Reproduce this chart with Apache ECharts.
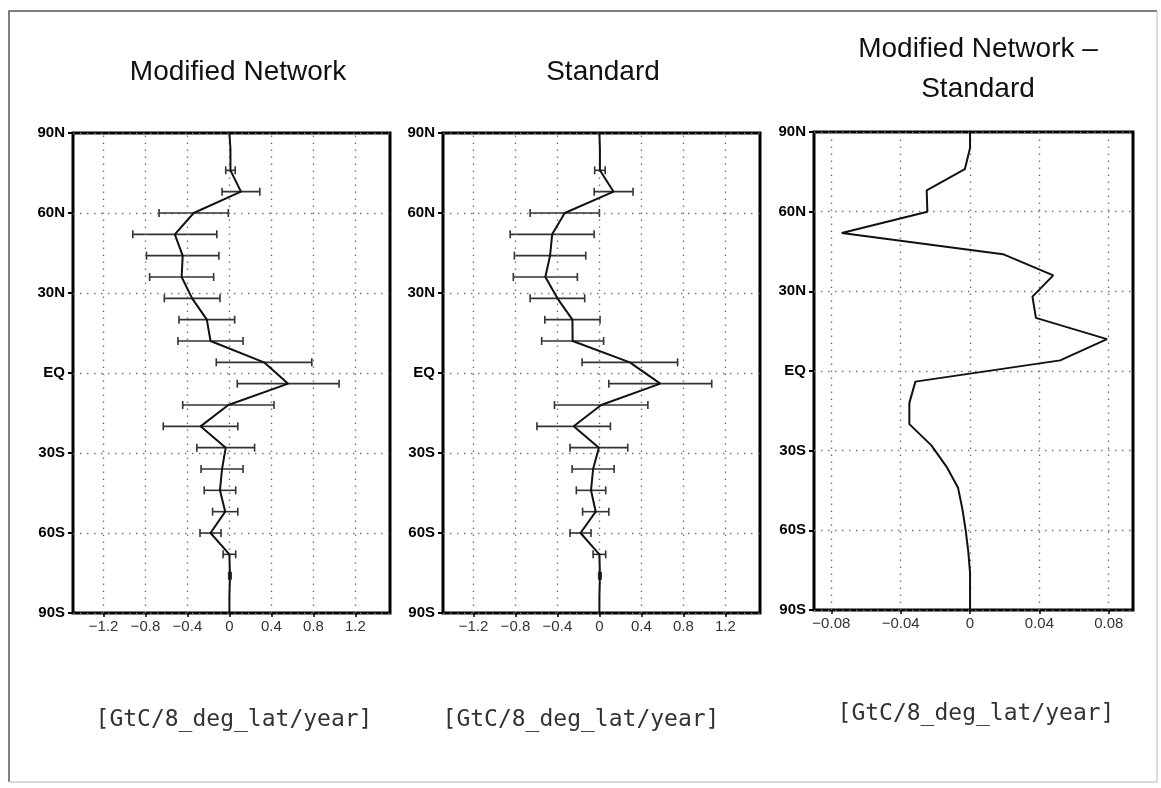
<!DOCTYPE html>
<html>
<head>
<meta charset="utf-8">
<script src="https://cdn.jsdelivr.net/npm/echarts@6/dist/echarts.min.js"></script>
<style>
html,body{margin:0;padding:0;background:#fff;}
#chart{width:1161px;height:788px;}
</style>
</head>
<body>
<div id="chart"></div>
<script>
// ---- data ----
const lats = [90, 84, 76, 68, 60, 52, 44, 36, 28, 20, 12, 4, -4, -12, -20, -28, -36, -44, -52, -60, -68, -76, -84, -90];

const modMean = [0, 0.01, 0.01, 0.11, -0.34, -0.52, -0.445, -0.455, -0.355, -0.215, -0.18, 0.33, 0.56, -0.01, -0.275, -0.035, -0.07, -0.09, -0.04, -0.18, 0.0, 0.005, 0, 0];
const modErr  = [null, null, 0.045, 0.18, 0.33, 0.40, 0.345, 0.305, 0.265, 0.265, 0.31, 0.455, 0.485, 0.435, 0.355, 0.275, 0.2, 0.15, 0.12, 0.10, 0.06, 0.012, null, null];

const stdMean = [0, 0.005, 0.005, 0.135, -0.33, -0.45, -0.47, -0.515, -0.40, -0.257, -0.255, 0.29, 0.58, 0.017, -0.245, -0.005, -0.06, -0.08, -0.035, -0.18, 0.0, 0.005, 0, 0];
const stdErr  = [null, null, 0.05, 0.185, 0.33, 0.40, 0.34, 0.305, 0.26, 0.263, 0.295, 0.455, 0.49, 0.445, 0.35, 0.275, 0.2, 0.14, 0.125, 0.1, 0.06, 0.012, null, null];

const diffVals = [0, 0, -0.003, -0.025, -0.0246, -0.074, 0.019, 0.048, 0.036, 0.038, 0.079, 0.052, -0.0315, -0.035, -0.035, -0.0223, -0.0136, -0.0069, -0.0044, -0.0025, -0.001, 0, 0, 0];

const ticksAB = [-1.2, -0.8, -0.4, 0, 0.4, 0.8, 1.2];
const ticksC  = [-0.08, -0.04, 0, 0.04, 0.08];

const titles = ['Modified Network', 'Standard', 'Modified Network \u2013\nStandard'];
const unitsLabel = '[GtC/8_deg_lat/year]';

// ---- helpers ----
function latLabel(v){
  if (v === 0) return 'EQ';
  return Math.abs(v) + (v > 0 ? 'N' : 'S');
}

const grids = [
  {left: 73, top: 133, width: 317, height: 480},
  {left: 443, top: 133, width: 317, height: 480},
  {left: 814, top: 132, width: 319, height: 478}
];
const xRanges = [[-1.49, 1.53], [-1.49, 1.53], [-0.09, 0.094]];
const xTicks = [ticksAB, ticksAB, ticksC];

const chart = echarts.init(document.getElementById('chart'), null, {renderer: 'canvas'});

const gridLineStyle = {type: [1.5, 5.5], color: '#777', width: 1.4};

const xAxes = [], yAxes = [], series = [];
for (let i = 0; i < 3; i++) {
  xAxes.push({
    gridIndex: i, type: 'value', min: xRanges[i][0], max: xRanges[i][1], position: 'bottom',
    axisLine: {show: false, onZero: false},
    axisTick: {show: true, customValues: xTicks[i], length: 4, inside: false, lineStyle: {color: '#000', width: 1.5}},
    axisLabel: {show: true, customValues: xTicks[i], margin: 6, color: '#333', fontSize: 15,
      fontFamily: 'Liberation Sans, Arial, sans-serif',
      formatter: v => (v < 0 ? '\u2212' : '') + Math.abs(v)},
    splitLine: {show: false}
  });
  yAxes.push({
    gridIndex: i, type: 'value', min: -90, max: 90, interval: 30, position: 'left',
    axisLine: {show: false, onZero: false},
    axisTick: {show: true, length: 5, lineStyle: {color: '#000', width: 2}},
    axisLabel: {show: true, margin: 8, color: '#000', fontSize: 15, fontWeight: 'bold',
      fontFamily: 'Liberation Sans, Arial, sans-serif', formatter: latLabel},
    splitLine: {show: true, lineStyle: gridLineStyle}
  });
}

function lineData(vals){ return lats.map((l, k) => [vals[k], l]); }
function errData(mean, err){
  const out = [];
  lats.forEach((l, k) => { if (err[k] != null) out.push([mean[k], l, err[k]]); });
  return out;
}
function renderErr(params, api){
  const m = api.value(0), lat = api.value(1), e = api.value(2);
  const p1 = api.coord([m - e, lat]);
  const p2 = api.coord([m + e, lat]);
  const h = 4;
  const st = {stroke: '#333', lineWidth: 1.6};
  return {type: 'group', children: [
    {type: 'line', shape: {x1: p1[0], y1: p1[1], x2: p2[0], y2: p2[1]}, style: st},
    {type: 'line', shape: {x1: p1[0], y1: p1[1]-h, x2: p1[0], y2: p1[1]+h}, style: st},
    {type: 'line', shape: {x1: p2[0], y1: p2[1]-h, x2: p2[0], y2: p2[1]+h}, style: st}
  ]};
}

const vals = [modMean, stdMean, diffVals];
for (let i = 0; i < 3; i++) {
  series.push({
    type: 'line', xAxisIndex: i, yAxisIndex: i, data: lineData(vals[i]),
    symbol: 'none', z: 5, animation: false, clip: true,
    lineStyle: {color: '#111', width: 2},
    markLine: {silent: true, symbol: ['none', 'none'], animation: false, label: {show: false},
      lineStyle: gridLineStyle, emphasis: {disabled: true},
      data: xTicks[i].map(t => ({xAxis: t}))}
  });
}
series.push({type: 'custom', xAxisIndex: 0, yAxisIndex: 0, data: errData(modMean, modErr),
  encode: {x: 0, y: 1}, renderItem: renderErr, z: 4, animation: false});
series.push({type: 'custom', xAxisIndex: 1, yAxisIndex: 1, data: errData(stdMean, stdErr),
  encode: {x: 0, y: 1}, renderItem: renderErr, z: 4, animation: false});

const titleFont = 'Liberation Sans, Arial, sans-serif';
const tStyle = {fontSize: 28, fontWeight: 'normal', color: '#111', fontFamily: titleFont, lineHeight: 40};
const uStyle = {fontSize: 23, fontWeight: 'normal', color: '#333', fontFamily: 'DejaVu Sans Mono, monospace'};
const option = {
  backgroundColor: '#fff',
  animation: false,
  grid: grids.map(g => Object.assign({show: true, borderColor: '#000', borderWidth: 3, backgroundColor: 'transparent'}, g)),
  xAxis: xAxes, yAxis: yAxes, series: series,
  title: [
    {text: titles[0], left: 233, top: 47, textAlign: 'center', textStyle: tStyle},
    {text: titles[1], left: 598, top: 47, textAlign: 'center', textStyle: tStyle},
    {text: titles[2], left: 973, top: 24, textAlign: 'center', textStyle: tStyle},
    {text: unitsLabel, left: 229, top: 704, textAlign: 'center', textStyle: uStyle},
    {text: unitsLabel, left: 576, top: 704, textAlign: 'center', textStyle: uStyle},
    {text: unitsLabel, left: 971, top: 698, textAlign: 'center', textStyle: uStyle}
  ],
  graphic: [
    {type: 'polyline', shape: {points: [[9, 782], [9, 11], [1157, 11]]}, style: {stroke: '#555', lineWidth: 1.5, fill: null}, silent: true},
    {type: 'polyline', shape: {points: [[1157, 11], [1157, 782], [9, 782]]}, style: {stroke: '#d0d0d0', lineWidth: 1.5, fill: null}, silent: true}
  ]
};
chart.setOption(option);
</script>
</body>
</html>
